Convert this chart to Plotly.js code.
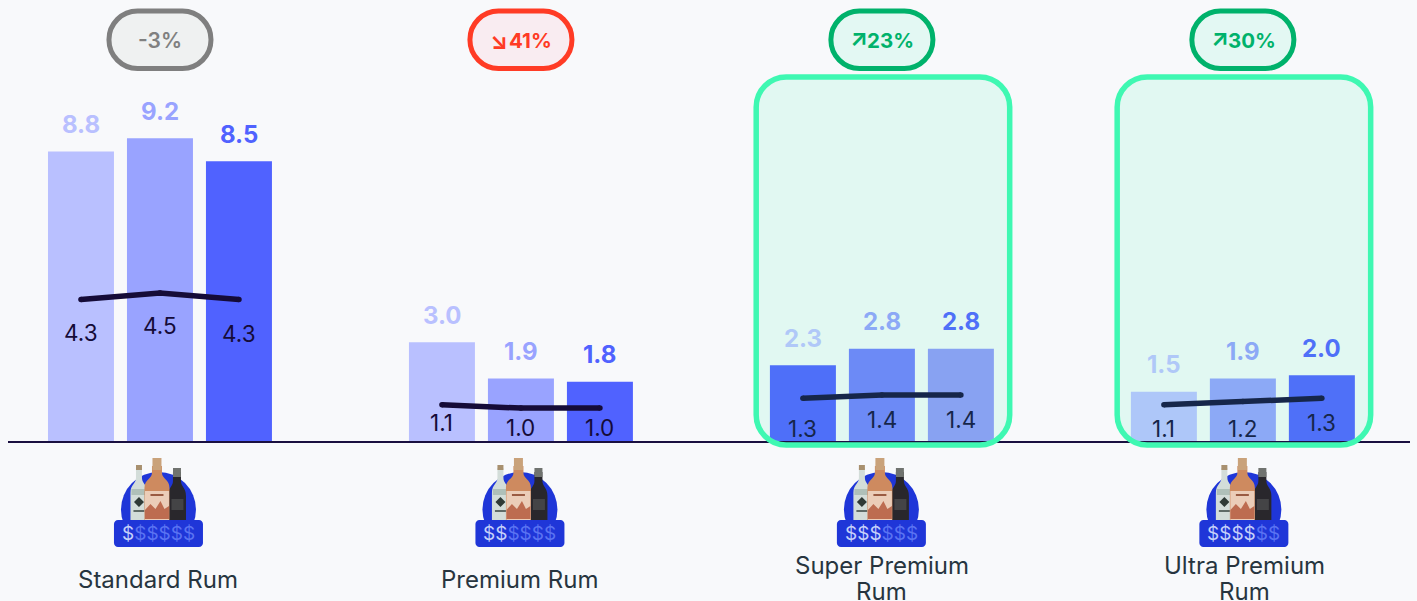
<!DOCTYPE html>
<html>
<head>
<meta charset="utf-8">
<script src="https://cdn.plot.ly/plotly-3.0.1.min.js"></script>
<style>html,body{margin:0;padding:0;background:#F8F9FB;overflow:hidden}</style>
</head>
<body>
<div id="chart" style="width:1417px;height:601px"></div>
<script>
// ---------- data ----------
var categories = ["Standard Rum", "Premium Rum", "Super Premium<br>Rum", "Ultra Premium<br>Rum"];
var barValuesA = [8.8, 3.0, 2.3, 1.5];
var barValuesB = [9.2, 1.9, 2.8, 1.9];
var barValuesC = [8.5, 1.8, 2.8, 2.0];
var lineValues = [[4.3, 4.5, 4.3], [1.1, 1.0, 1.0], [1.3, 1.4, 1.4], [1.1, 1.2, 1.3]];
var badgeText = ["-3%", "41%", "23%", "30%"];
var badgeArrow = ["", "\u2198", "\u2197", "\u2197"];
var dollarsLit = [1, 2, 3, 4];

// ---------- styles ----------
var barColorsA = ["#B9C0FF", "#B9C0FF", "#4E6FF9", "#AEC7F9"];
var barColorsB = ["#99A3FF", "#99A3FF", "#6C8AF6", "#8CA9F6"];
var barColorsC = ["#5062FF", "#5062FF", "#88A2F2", "#4F70F8"];
var labelColorsA = ["#B9C0FF", "#B9C0FF", "#B0C8F8", "#B0C8F8"];
var labelColorsB = ["#99A3FF", "#99A3FF", "#8CA9F6", "#8CA9F6"];
var labelColorsC = ["#5062FF", "#5062FF", "#4F70F8", "#4F70F8"];
var lineColors = ["#150B38", "#150B38", "#16264A", "#16264A"];
var badgeStroke = ["#7F7F7F", "#FF3B25", "#00B26B", "#00B26B"];
var badgeFill = ["#EFF1F1", "#F9ECF1", "#E3F8F3", "#E3F8F3"];
var badgeTextColor = ["#808080", "#FF3B25", "#00B26B", "#00B26B"];
var badgeTextShift = [0, 9.5, 9, 9.5];
var highlighted = [false, false, true, true];
var lineLabelDrop = [[33, 33, 34], [18, 19, 19], [30, 25, 25], [24, 27, 24]];
var iconShift = [-1.5, -1, -0.5, 1];
var labelShift = [-1.5, -1.5, -0.2, 1.2];

var FONT = "Inter, 'Noto Sans', sans-serif";
var UNIT = 361, BASE = 441, SLOT = 79 / UNIT;
var seriesOffsets = [-SLOT, 0, SLOT];

function rr(x0, y0, x1, y1, r) {
  var k = r * 0.45;
  return "M" + (x0 + r) + " " + y1 + " L" + (x1 - r) + " " + y1 +
    " C" + (x1 - k) + " " + y1 + " " + x1 + " " + (y1 - k) + " " + x1 + " " + (y1 - r) +
    " L" + x1 + " " + (y0 + r) +
    " C" + x1 + " " + (y0 + k) + " " + (x1 - k) + " " + y0 + " " + (x1 - r) + " " + y0 +
    " L" + (x0 + r) + " " + y0 +
    " C" + (x0 + k) + " " + y0 + " " + x0 + " " + (y0 + k) + " " + x0 + " " + (y0 + r) +
    " L" + x0 + " " + (y1 - r) +
    " C" + x0 + " " + (y1 - k) + " " + (x0 + k) + " " + y1 + " " + (x0 + r) + " " + y1 + " Z";
}
function Y(py) { return BASE - py; }

function pixShape(i, path, fill, lineCol, lineW, layer, dx) {
  return {
    type: "path", path: path, xref: "x", yref: "paper",
    xsizemode: "pixel", ysizemode: "pixel",
    xanchor: i + (dx || 0) / UNIT, yanchor: 0,
    fillcolor: fill,
    line: {color: lineCol || "rgba(0,0,0,0)", width: lineW || 0},
    layer: layer || "above"
  };
}
function poly(pts) {
  return "M" + pts.map(function (p) { return p[0] + " " + Y(p[1]); }).join(" L") + " Z";
}
function bottle(cx, top, neckW, bodyW, shoulder, bottom) {
  var n = neckW / 2, b = bodyW / 2, s = shoulder;
  return "M" + (cx - n) + " " + Y(top) + " L" + (cx + n) + " " + Y(top) +
    " L" + (cx + n) + " " + Y(s - 6) +
    " C" + (cx + n) + " " + Y(s) + " " + (cx + b) + " " + Y(s) + " " + (cx + b) + " " + Y(s + 9) +
    " L" + (cx + b) + " " + Y(bottom) + " L" + (cx - b) + " " + Y(bottom) + " L" + (cx - b) + " " + Y(s + 9) +
    " C" + (cx - b) + " " + Y(s) + " " + (cx - n) + " " + Y(s) + " " + (cx - n) + " " + Y(s - 6) + " Z";
}

var traces = [];
[[barValuesA, barColorsA], [barValuesB, barColorsB], [barValuesC, barColorsC]].forEach(function (s) {
  traces.push({
    type: "bar", x: [0, 1, 2, 3], y: s[0],
    marker: {color: s[1], line: {width: 0}},
    hoverinfo: "skip", showlegend: false
  });
});
lineValues.forEach(function (vals, i) {
  traces.push({
    type: "scatter", mode: "lines+markers",
    x: seriesOffsets.map(function (o) { return i + o; }), y: vals,
    line: {color: lineColors[i], width: 5.5},
    marker: {color: lineColors[i], size: 5.5},
    hoverinfo: "skip", showlegend: false
  });
});

var shapes = [], annotations = [];

categories.forEach(function (name, i) {
  if (highlighted[i]) {
    shapes.push(pixShape(i, rr(-126.5, Y(445), 127, Y(77), 30), "#E1F8F2", null, 0, "below", 0.8));
    shapes.push(pixShape(i, rr(-126.5, Y(445), 127, Y(77), 30), "rgba(0,0,0,0)", "#3FF8B2", 5.5, "above", 0.8));
  }
  shapes.push(pixShape(i, rr(-51, Y(68.5), 51, Y(11), 28.5), badgeFill[i], badgeStroke[i], 5));
  annotations.push({
    x: i, xref: "x", y: 0, yref: "paper", yshift: BASE - 40, xshift: badgeTextShift[i],
    text: badgeText[i], showarrow: false, xanchor: "center", yanchor: "middle",
    font: {family: FONT, size: i === 0 ? 21 : 20.5, weight: i === 0 ? 600 : 700, color: badgeTextColor[i]}
  });
  if (badgeArrow[i]) {
    annotations.push({
      x: i, xref: "x", y: 0, yref: "paper", yshift: BASE - (i === 1 ? 41 : 38), xshift: i === 1 ? -22 : -23,
      text: badgeArrow[i], showarrow: false, xanchor: "center", yanchor: "middle",
      font: {family: FONT, size: 23, weight: 700, color: badgeTextColor[i]}
    });
  }
  [[barValuesA, labelColorsA], [barValuesB, labelColorsB], [barValuesC, labelColorsC]].forEach(function (s, k) {
    annotations.push({
      x: i + seriesOffsets[k], y: s[0][i], xref: "x", yref: "y", yshift: 27,
      text: s[0][i].toFixed(1), showarrow: false, xanchor: "center", yanchor: "middle",
      font: {family: FONT, size: 24, weight: 700, color: s[1][i]}
    });
    annotations.push({
      x: i + seriesOffsets[k], y: lineValues[i][k], xref: "x", yref: "y", yshift: -lineLabelDrop[i][k],
      text: lineValues[i][k].toFixed(1), showarrow: false, xanchor: "center", yanchor: "middle",
      font: {family: FONT, size: 22.5, weight: 400, color: lineColors[i]}
    });
  });
  // icon
  var d = iconShift[i];
  shapes.push({
    type: "circle", xref: "x", yref: "paper", xsizemode: "pixel", ysizemode: "pixel",
    xanchor: i + d / UNIT, yanchor: 0, x0: -37.5, x1: 37.5, y0: Y(547), y1: Y(472),
    fillcolor: "#1F36D8", line: {width: 0}, layer: "above"
  });
  // clear bottle
  shapes.push(pixShape(i, bottle(-19.5, 468, 6, 17, 484, 520), "#D3DDD9", null, 0, "above", d));
  shapes.push(pixShape(i, poly([[-22.5, 465], [-16.5, 465], [-16.5, 470], [-22.5, 470]]), "#A8906F", null, 0, "above", d));
  shapes.push(pixShape(i, poly([[-19.5, 497], [-14.5, 502], [-19.5, 507], [-24.5, 502]]), "#2F3A36", null, 0, "above", d));
  shapes.push(pixShape(i, poly([[-27, 489], [-12, 489], [-12, 495], [-27, 495]]), "#AFC0B9", null, 0, "above", d));
  shapes.push(pixShape(i, poly([[-25, 510], [-14, 510], [-14, 512], [-25, 512]]), "#5F6B66", null, 0, "above", d));
  // dark bottle
  shapes.push(pixShape(i, bottle(18.5, 472, 8, 18, 487, 520), "#29272C", null, 0, "above", d));
  shapes.push(pixShape(i, poly([[14.5, 468], [22.5, 468], [22.5, 477], [14.5, 477]]), "#70736F", null, 0, "above", d));
  shapes.push(pixShape(i, poly([[13, 499], [25, 499], [25, 510], [13, 510]]), "#444446", null, 0, "above", d));
  // amber bottle
  shapes.push(pixShape(i, bottle(-1.5, 466, 10, 25, 479, 520), "#CE8A5F", null, 0, "above", d));
  shapes.push(pixShape(i, poly([[-6, 458], [3, 458], [3, 470], [-6, 470]]), "#C9A27A", null, 0, "above", d));
  shapes.push(pixShape(i, poly([[-13.5, 491], [10.5, 491], [10.5, 520], [-13.5, 520]]), "#EBCDB8", null, 0, "above", d));
  shapes.push(pixShape(i, poly([[-8, 494], [5, 494], [5, 496], [-8, 496]]), "#9A5B42", null, 0, "above", d));
  shapes.push(pixShape(i, poly([[-13.5, 519], [-13.5, 510], [-8, 504], [-3, 509], [2, 501], [6, 509], [10.5, 506], [10.5, 519]]), "#BD6C50", null, 0, "above", d));
  // price strip
  shapes.push(pixShape(i, rr(-44.5, Y(547), 44.5, Y(520), 4), "#1F36D8", null, 0, "above", d));
  var dollars = "";
  for (var n = 0; n < 6; n++) {
    dollars += '<span style="color:' + (n < dollarsLit[i] ? "#C5D0FA" : "#5A73F2") + '">$</span>';
  }
  annotations.push({
    x: i, xref: "x", y: 0, yref: "paper", yshift: BASE - 533.5, xshift: d,
    text: dollars, showarrow: false, xanchor: "center", yanchor: "middle",
    font: {family: FONT, size: 19, weight: 400, color: "#C5D0FA"}
  });
  // category label, one annotation per line for the tight line spacing
  var lines = name.split("<br>");
  var rows = lines.length === 1 ? [579.5] : [565.5, 591.5];
  lines.forEach(function (txt, r) {
    annotations.push({
      x: i, xref: "x", y: 0, yref: "paper", yshift: BASE - rows[r], xshift: labelShift[i],
      text: txt, showarrow: false, xanchor: "center", yanchor: "middle", align: "center",
      font: {family: FONT, size: 24, color: "#27353F"}
    });
  });
});

var layout = {
  width: 1417, height: 601,
  margin: {l: 8, r: 7, t: 0, b: 160, pad: 0},
  paper_bgcolor: "#F8F9FB", plot_bgcolor: "rgba(0,0,0,0)",
  barmode: "group", bargap: 0.3435, bargroupgap: 0.1646,
  showlegend: false,
  xaxis: {
    range: [-0.421, 3.463], showgrid: false, zeroline: false, showticklabels: false,
    ticks: "", showline: true, linecolor: "#1A1040", linewidth: 2, fixedrange: true
  },
  yaxis: {
    range: [0, 13.4], visible: false, showgrid: false, zeroline: false, fixedrange: true
  },
  shapes: shapes, annotations: annotations
};
Plotly.newPlot("chart", traces, layout, {displayModeBar: false, staticPlot: true});
</script>
</body>
</html>
